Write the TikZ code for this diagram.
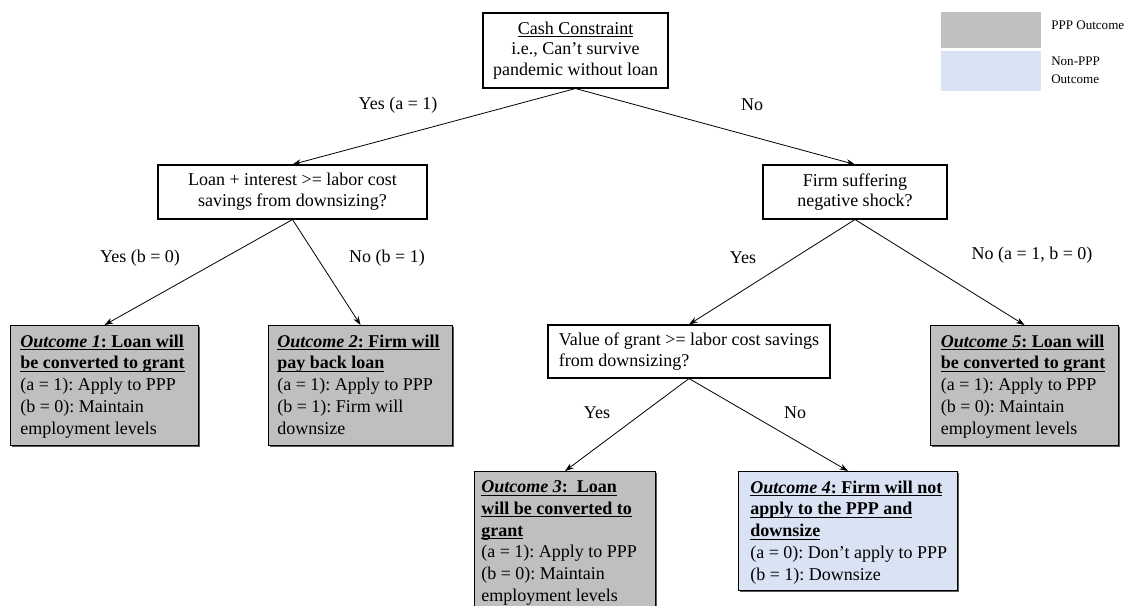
\documentclass[tikz,border=0pt]{standalone}
\usepackage{fontspec}
\setmainfont{Liberation Serif}
\usetikzlibrary{arrows.meta,shadows}
\definecolor{pppgray}{RGB}{191,191,191}
\definecolor{nonppp}{RGB}{218,227,243}
\frenchspacing
\newcommand{\wordul}[1]{\setbox0\hbox{#1}\makebox[0pt][l]{\rule[-2pt]{\wd0}{0.6pt}}\box0}
\tikzset{
  decision/.style={draw, line width=0.8pt, inner sep=0pt, align=center,
    font=\fontsize{13.5}{15.5}\selectfont},
  outbox/.style={draw, line width=0.8pt, fill=pppgray, anchor=north west, inner sep=0pt,
    drop shadow={shadow xshift=0.9pt, shadow yshift=-0.9pt, fill=black!65, opacity=1}},
  outtext/.style={anchor=north west, inner sep=0pt, align=left,
    font=\fontsize{13.5}{16.3}\selectfont},
  arr/.style={-{Stealth[length=6.5pt,width=4.5pt]}, line width=0.6pt},
  lbl/.style={font=\fontsize{13.5}{15}\selectfont, inner sep=0pt},
  legtext/.style={font=\fontsize{9.8}{13.5}\selectfont, anchor=west, align=left, inner sep=0pt},
}
\begin{document}
\begin{tikzpicture}[x=0.75pt, y=-0.75pt]
\useasboundingbox (0,0) rectangle (1128,606);
\clip (0,0) rectangle (1128,606);

% legend
\node[fill=pppgray, minimum width=75pt, minimum height=27pt, inner sep=0pt, anchor=north west] (legppp) at (941,12) {};
\node[fill=nonppp, minimum width=75pt, minimum height=30pt, inner sep=0pt, anchor=north west] (legnon) at (941,51) {};
\node[legtext] (legppptxt) at (1051,25) {PPP Outcome};
\node[legtext] (legnontxt) at (1051,70) {Non-PPP\\Outcome};

% decision boxes
\node[decision, minimum width=138.75pt, minimum height=56.25pt] (top) at (575.5,50.5)
  {\wordul{Cash Constraint}\\i.e., Can’t survive\\pandemic without loan};
\node[decision, minimum width=201.75pt, minimum height=40.5pt] (loan) at (292.5,192)
  {Loan + interest >= labor cost\\savings from downsizing?};
\node[decision, minimum width=138pt, minimum height=40.5pt] (firm) at (855,192)
  {Firm suffering\\negative shock?};
\node[decision, minimum width=211.5pt, minimum height=39.75pt, align=left] (value) at (689,351.5)
  {Value of grant >= labor cost savings\\from downsizing?};

% outcome boxes
\node[outbox, minimum width=141pt, minimum height=90pt] (o1) at (10,325) {};
\node[outtext] (o1t) at (20,334.5)
  {\wordul{\textbf{\textit{Outcome 1}: Loan will}}\\\wordul{\textbf{be converted to grant}}\\(a = 1): Apply to PPP\\(b = 0): Maintain\\employment levels};
\node[outbox, minimum width=138pt, minimum height=90pt] (o2) at (268,325) {};
\node[outtext] (o2t) at (277,334.5)
  {\wordul{\textbf{\textit{Outcome 2}: Firm will}}\\\wordul{\textbf{pay back loan}}\\(a = 1): Apply to PPP\\(b = 1): Firm will\\downsize};
\node[outbox, minimum width=141pt, minimum height=90pt] (o5) at (930,325) {};
\node[outtext] (o5t) at (940.5,334.5)
  {\wordul{\textbf{\textit{Outcome 5}: Loan will}}\\\wordul{\textbf{be converted to grant}}\\(a = 1): Apply to PPP\\(b = 0): Maintain\\employment levels};
\node[outbox, minimum width=135.75pt, minimum height=112.5pt] (o3) at (474,471) {};
\node[outtext] (o3t) at (481,480.5)
  {\wordul{\textbf{\textit{Outcome 3}:\ \ Loan}}\\\wordul{\textbf{will be converted to}}\\\wordul{\textbf{grant}}\\(a = 1): Apply to PPP\\(b = 0): Maintain\\employment levels};
\node[outbox, fill=nonppp, minimum width=164.25pt, minimum height=89.25pt] (o4) at (738,471) {};
\node[outtext] (o4t) at (750,480.5)
  {\wordul{\textbf{\textit{Outcome 4}: Firm will not}}\\\wordul{\textbf{apply to the PPP and}}\\\wordul{\textbf{downsize}}\\(a = 0): Don’t apply to PPP\\(b = 1): Downsize};

% connectors
\draw[arr] (top.south) -- (loan.north);
\draw[arr] (top.south) -- (firm.north);
\draw[arr] (loan.south) -- (o1.north);
\draw[arr] (loan.south) -- (o2.north);
\draw[arr] (firm.south) -- (value.north);
\draw[arr] (firm.south) -- (o5.north);
\draw[arr] (value.south) -- (o3.north);
\draw[arr] (value.south) -- (o4.north);

% labels
\node[lbl] (l1) at (398,105) {Yes (a = 1)};
\node[lbl] (l2) at (752,105) {No};
\node[lbl] (l3) at (140,258) {Yes (b = 0)};
\node[lbl] (l4) at (387,258) {No (b = 1)};
\node[lbl] (l5) at (743,258) {Yes};
\node[lbl] (l6) at (1032,255) {No (a = 1, b = 0)};
\node[lbl] (l7) at (597,413) {Yes};
\node[lbl] (l8) at (795,413) {No};
\end{tikzpicture}
\end{document}
